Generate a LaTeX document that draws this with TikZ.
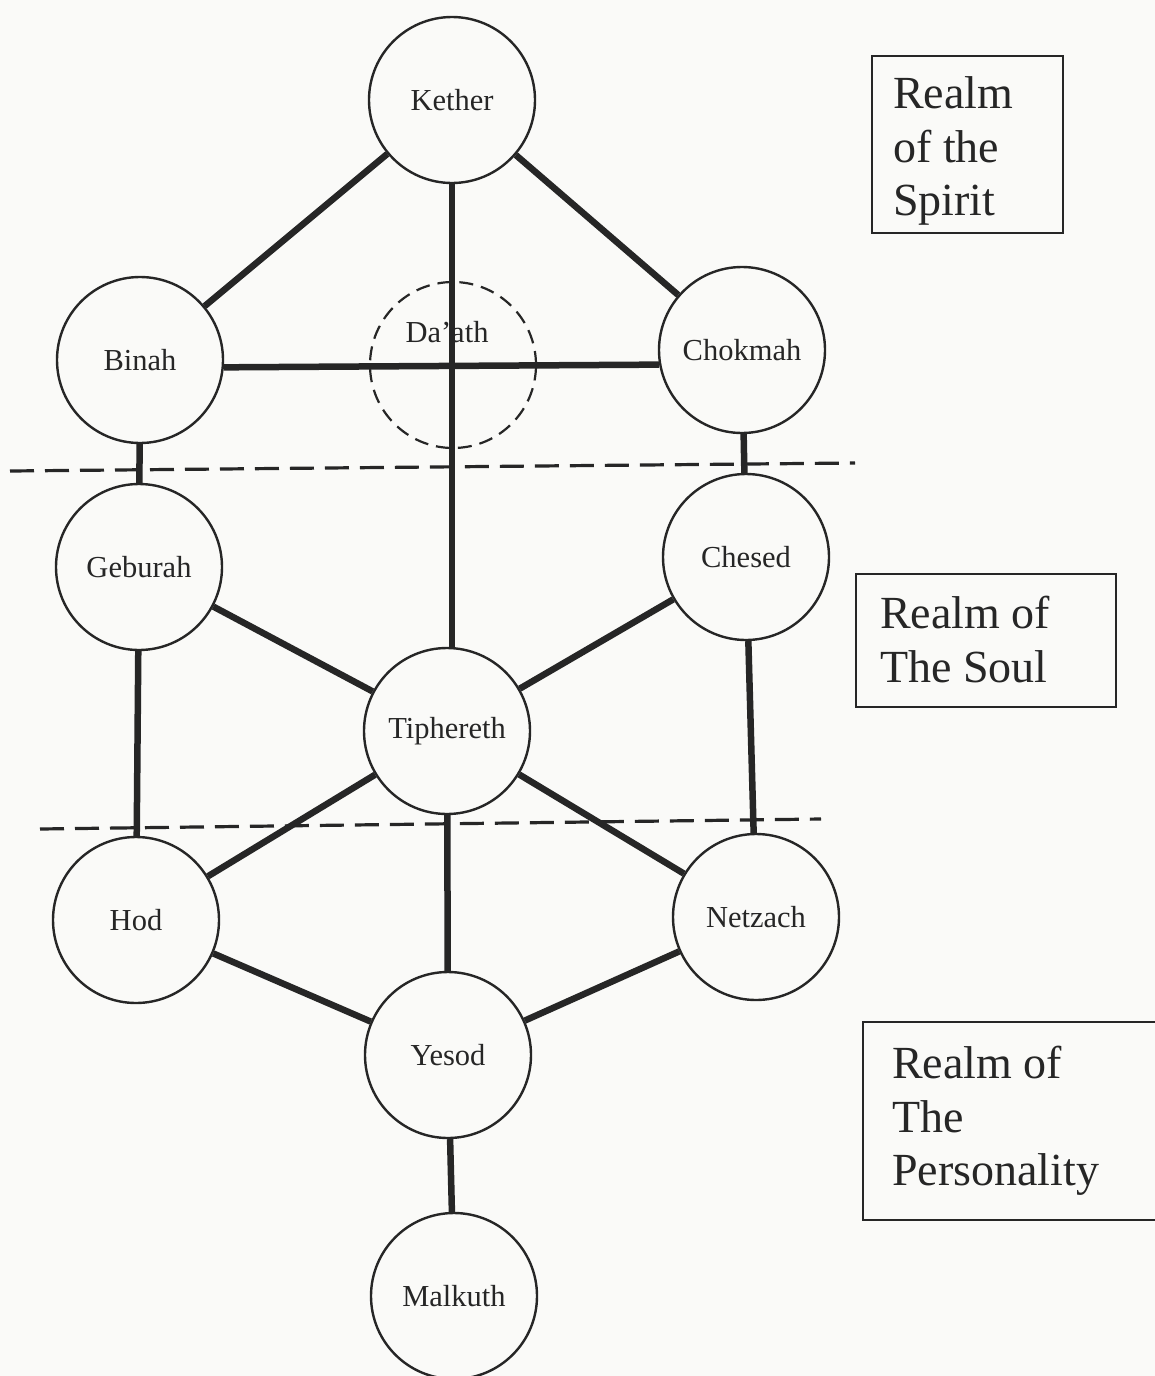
\documentclass[tikz,border=0pt]{standalone}
\usepackage{fontspec}
\setmainfont{Liberation Serif}
\definecolor{ink}{RGB}{38,38,38}
\definecolor{paper}{RGB}{250,250,248}
\begin{document}
\begin{tikzpicture}[x=1pt,y=-1pt,
  sef/.style={circle, draw=ink, line width=2.4pt, minimum size=166pt, inner sep=0pt,
              font=\fontsize{30.5}{36}\selectfont, text=ink},
  daathc/.style={circle, draw=ink, line width=2.2pt, dash pattern=on 14pt off 8pt,
              minimum size=166pt, inner sep=0pt},
  sefl/.style={inner sep=0pt, font=\fontsize{30.5}{36}\selectfont, text=ink},
  conn/.style={draw=ink, line width=6.5pt},
  sepline/.style={draw=ink, line width=3.2pt, dash pattern=on 24pt off 11pt},
  realmbox/.style={draw=ink, line width=2.2pt, inner sep=0pt, anchor=north west},
  realmtxt/.style={inner sep=0pt, anchor=base west, font=\fontsize{46}{53}\selectfont, text=ink}
]
\useasboundingbox (0,0) rectangle (1155,1376);
\fill[paper] (0,0) rectangle (1155,1376);

% Sephiroth
\node[sef] (Kether)    at (452,100)  {Kether};
\node[sef] (Binah)     at (140,360)  {Binah};
\node[daathc] (Daath)  at (453,365)  {};
\node[sefl] (DaathLabel) at (447,332) {Da’ath};
\node[sef] (Chokmah)   at (742,350)  {Chokmah};
\node[sef] (Geburah)   at (139,567)  {Geburah};
\node[sef] (Chesed)    at (746,557)  {Chesed};
\node[sef] (Tiphereth) at (447,731)  {Tiphereth};
\node[sef] (Hod)       at (136,920)  {Hod};
\node[sef] (Netzach)   at (756,917)  {Netzach};
\node[sef] (Yesod)     at (448,1055) {Yesod};
\node[sef] (Malkuth)   at (454,1296) {Malkuth};

% Paths
\draw[conn] (Kether) -- (Binah);
\draw[conn] (Kether) -- (Chokmah);
\draw[conn] (Kether.south) -- (Kether.south |- Tiphereth.north);
\draw[conn] (Binah.-5) -- (Chokmah.190);
\draw[conn] (Binah) -- (Geburah);
\draw[conn] (Chokmah) -- (Chesed);
\draw[conn] (Geburah) -- (Tiphereth);
\draw[conn] (Chesed) -- (Tiphereth);
\draw[conn] (Geburah) -- (Hod);
\draw[conn] (Chesed) -- (Netzach);
\draw[conn] (Tiphereth) -- (Hod);
\draw[conn] (Tiphereth) -- (Netzach);
\draw[conn] (Tiphereth) -- (Yesod);
\draw[conn] (Hod) -- (Yesod);
\draw[conn] (Netzach) -- (Yesod);
\draw[conn] (Yesod) -- (Malkuth);

% Separators
\coordinate (sepAl) at (10,471);
\coordinate (sepAr) at (855,463);
\coordinate (sepBl) at (40,829);
\coordinate (sepBr) at (821,819);
\draw[sepline] (sepAl) -- (sepAr);
\draw[sepline] (sepBl) -- (sepBr);

% Realm boxes
\node[realmbox, minimum width=191pt, minimum height=177pt] (spiritbox) at (871,55) {};
\node[realmtxt] (spiritA) at (893,108) {Realm};
\node[realmtxt] (spiritB) at (893,162) {of the};
\node[realmtxt] (spiritC) at (893,215) {Spirit};

\node[realmbox, minimum width=260pt, minimum height=133pt] (soulbox) at (855,573) {};
\node[realmtxt] (soulA) at (880,628) {Realm of};
\node[realmtxt] (soulB) at (880,682) {The Soul};

\node[realmbox, minimum width=296pt, minimum height=198pt] (persbox) at (862,1021) {};
\node[realmtxt] (persA) at (892,1078) {Realm of};
\node[realmtxt] (persB) at (892,1132) {The};
\node[realmtxt] (persC) at (892,1185) {Personality};
\end{tikzpicture}
\end{document}
